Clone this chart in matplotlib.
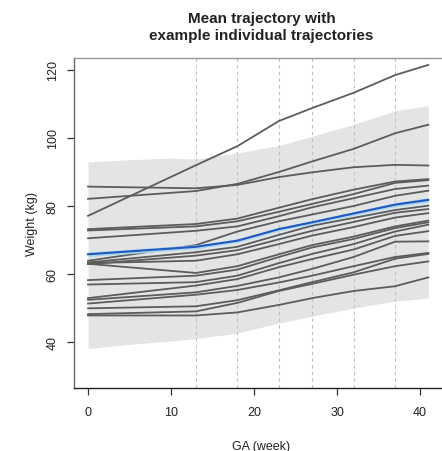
import matplotlib
matplotlib.use("Agg")
import matplotlib.pyplot as plt
import numpy as np

plt.rcParams['font.family'] = ['Liberation Sans', 'DejaVu Sans']

# semanas de gestação com medidas
semanas = [0, 13, 18, 23, 27, 32, 37, 41]

# trajetórias individuais de peso (kg)
trajetorias = [
    [77.1, 92.0, 97.6, 105.0, 108.8, 113.3, 118.5, 121.5],
    [85.7, 85.2, 86.2, 88.5, 89.9, 91.4, 92.1, 91.9],
    [82.1, 84.4, 86.5, 90.0, 93.1, 96.8, 101.4, 103.9],
    [73.2, 74.7, 76.3, 79.5, 82.0, 84.8, 87.2, 87.9],
    [72.8, 74.0, 75.5, 78.3, 80.6, 83.5, 86.8, 87.6],
    [70.5, 72.7, 74.0, 77.0, 79.6, 82.3, 85.0, 86.0],
    [63.9, 68.5, 72.5, 75.5, 77.5, 80.0, 83.0, 84.5],
    [63.4, 66.4, 68.0, 71.5, 74.2, 76.5, 78.8, 80.1],
    [62.9, 65.4, 67.0, 70.2, 72.7, 75.3, 78.0, 79.1],
    [63.2, 63.9, 65.8, 68.8, 71.3, 73.8, 76.6, 77.9],
    [63.0, 60.3, 62.3, 65.8, 68.5, 71.0, 74.0, 75.7],
    [58.2, 59.5, 61.3, 65.0, 67.8, 70.3, 73.5, 75.2],
    [56.9, 57.6, 59.5, 63.2, 65.9, 68.8, 72.5, 74.5],
    [52.9, 56.6, 58.5, 62.0, 64.4, 67.2, 71.2, 72.6],
    [52.4, 54.6, 56.5, 59.0, 61.5, 65.0, 69.5, 69.6],
    [51.3, 53.9, 55.3, 57.5, 59.5, 62.3, 65.0, 66.2],
    [49.9, 50.5, 52.3, 55.2, 57.6, 60.5, 64.5, 65.9],
    [48.2, 49.0, 51.5, 55.0, 57.1, 59.8, 62.3, 63.7],
    [47.8, 47.8, 48.7, 50.9, 52.9, 55.0, 56.4, 59.0],
]

# trajetória média e intervalo de confiança
media = [65.8, 68.0, 69.8, 73.2, 75.2, 77.8, 80.4, 81.8]
media_inf = [65.1, 67.4, 69.3, 72.7, 74.7, 77.3, 79.8, 81.1]
media_sup = [66.5, 68.6, 70.3, 73.7, 75.7, 78.3, 81.0, 82.5]

# faixa de predição
semanas_faixa = [0, 5, 10, 13, 18, 23, 27, 32, 37, 41]
faixa_sup = [93.0, 93.6, 94.1, 93.8, 95.6, 97.8, 100.5, 104.0, 108.0, 109.5]
faixa_inf = [38.1, 39.3, 40.3, 41.0, 42.6, 45.6, 47.6, 50.0, 52.0, 52.9]

fig = plt.figure(figsize=(4.42, 4.52), dpi=100)
ax = fig.add_axes([0.1674, 0.1394, 0.8486, 0.7301])

ax.fill_between(semanas_faixa, faixa_inf, faixa_sup, color='#e3e4e6', lw=0, zorder=1)

for s in semanas[1:-1]:
    ax.axvline(s, color='#c0c0c0', ls=(0, (3, 3)), lw=0.8, zorder=2)

for t in trajetorias:
    ax.plot(semanas, t, color='#5c5c5c', lw=1.3, zorder=3)

ax.fill_between(semanas, media_inf, media_sup, color='#a9d6ec', lw=0, zorder=4)
ax.plot(semanas, media, color='#1f58c0', lw=1.5, zorder=5)

ax.set_xlim(-1.69, 43.5)
ax.set_ylim(26.47, 123.53)
ax.set_xticks([0, 10, 20, 30, 40])
ax.set_yticks([40, 60, 80, 100, 120])
ax.tick_params(axis='both', direction='out', length=5, width=0.9, labelsize=9,
               color='#333333', labelcolor='#222222')
ax.tick_params(axis='x', pad=8)
ax.tick_params(axis='y', pad=6)
for lbl in ax.get_yticklabels():
    lbl.set_rotation(90)
    lbl.set_va('center')

ax.spines['right'].set_visible(False)
ax.spines['top'].set_color('#999999')
ax.spines['left'].set_color('#666666')
ax.spines['bottom'].set_color('#222222')
for sp in ax.spines.values():
    sp.set_linewidth(1.0)

ax.set_xlabel('GA (week)', fontsize=9, color='#222222', labelpad=15.5)
ax.set_ylabel('Weight (kg)', fontsize=9, color='#222222', labelpad=6)
ax.set_title('Mean trajectory with\nexample individual trajectories',
             fontsize=11, fontweight='bold', color='#222222', pad=14)

fig.savefig('out.png', dpi=100)
